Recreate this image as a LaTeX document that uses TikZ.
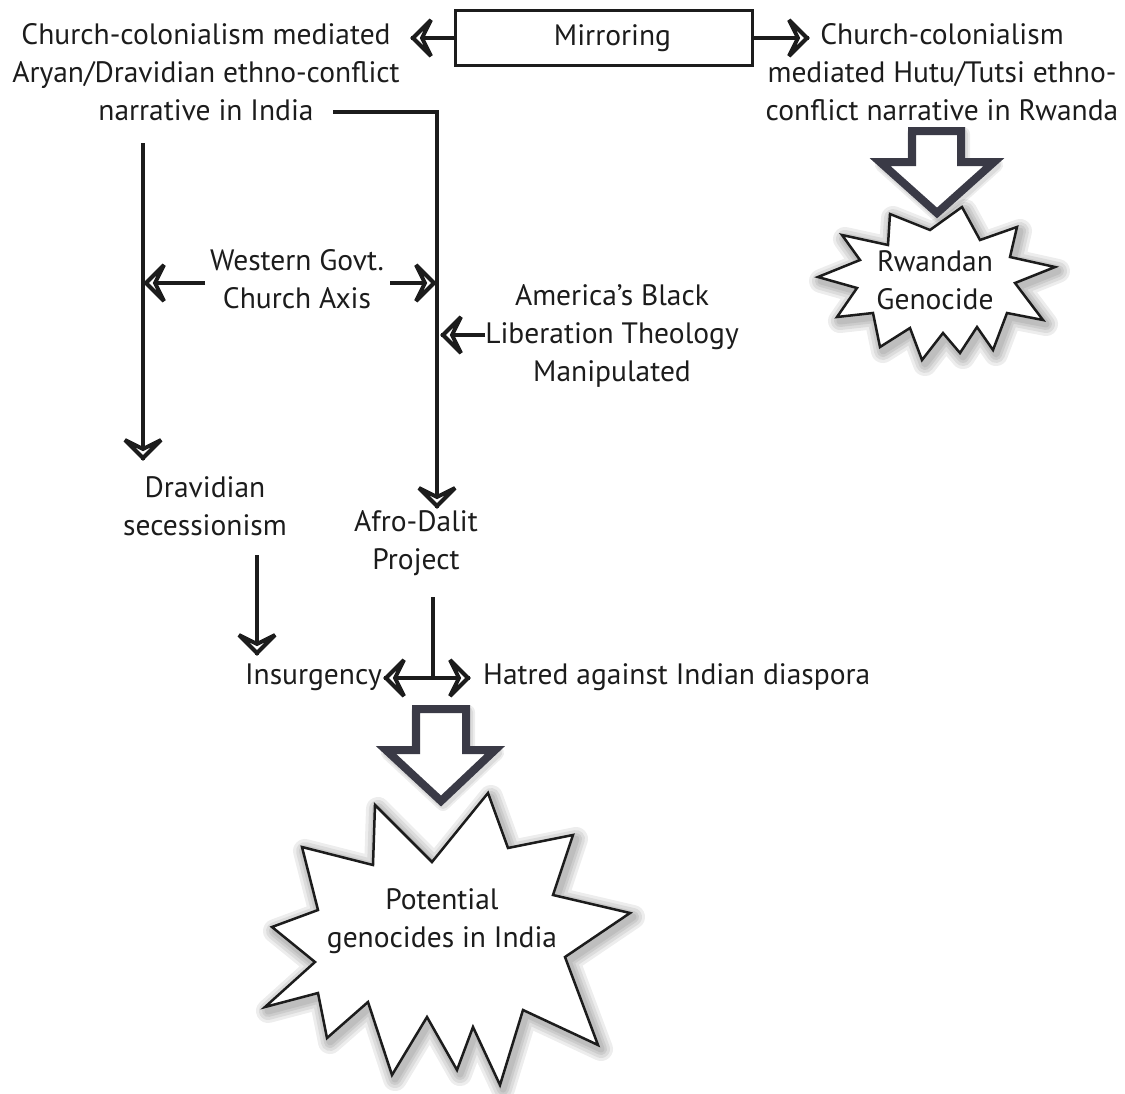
\documentclass[tikz,border=0pt]{standalone}
\usepackage{fontspec}
\setmainfont{PT Sans}
\definecolor{arrowgray}{HTML}{3A3A46}
\definecolor{inkc}{HTML}{1C1C1C}
\begin{document}
\begin{tikzpicture}[x=1pt,y=-1pt,
  txt/.style={align=center, font=\fontsize{29.5}{38}\selectfont, inner sep=0pt, text=inkc},
  plain/.style={line width=3.2pt, draw=inkc},
  bigarrow/.style={line width=8pt, draw=arrowgray, fill=white, line join=miter},
  burst/.style={line width=2.5pt, draw=inkc, fill=white, line join=miter},
  glow/.style={line width=#1, draw=black, opacity=0.07, line join=round},
  % open notched arrowhead, tip at the pic origin, pointing along +x
  ohead/.pic={\draw[line width=4pt, draw=inkc, fill=white, line join=miter, miter limit=4]
      (-2,0) -- (-20,-18) -- (-11,0) -- (-20,18) -- cycle;},
]
\useasboundingbox (0,0) rectangle (1125,1093);

% ---- starburst outlines ----
\def\rwandaburst{(842,235) -- (888,245) -- (890,214) -- (930,230) -- (962,207) -- (980,240) -- (1017,227) -- (1010,257) -- (1055,267) -- (1015,283) -- (1043,320) -- (1007,313) -- (993,350) -- (977,327) -- (960,353) -- (943,333) -- (922,360) -- (910,328) -- (880,347) -- (873,313) -- (837,317) -- (857,288) -- (818,277) -- (860,260) -- cycle}
\def\indiaburst{(488,793) -- (508,848) -- (573,835) -- (553,895) -- (630,913) -- (565,957) -- (598,1045) -- (523,1010) -- (500,1085) -- (473,1027) -- (457,1070) -- (427,1017) -- (392,1075) -- (368,1002) -- (327,1038) -- (318,993) -- (265,1007) -- (315,962) -- (272,927) -- (318,910) -- (302,847) -- (373,865) -- (375,805) -- (432,862) -- cycle}

% soft shadows behind the bursts
\begin{scope}[shift={(3,4)}]
  \foreach \w in {24pt,18pt,12pt,7pt} {
    \draw[glow=\w] \rwandaburst;
    \draw[glow=\w] \indiaburst;
  }
\end{scope}
\draw[burst] \rwandaburst;
\draw[burst] \indiaburst;

% ---- block arrows ----
\begin{scope}[shift={(2,3)}]
  \foreach \w in {14pt,10pt} {
    \draw[glow=\w] (912,131) -- (961,131) -- (961,162) -- (994,162) -- (937,213) -- (880,162) -- (912,162) -- cycle;
    \draw[glow=\w] (416,709) -- (466,709) -- (466,750) -- (495,750) -- (441,801) -- (386,750) -- (416,750) -- cycle;
  }
\end{scope}
\draw[bigarrow] (912,131) -- (961,131) -- (961,162) -- (994,162) -- (937,213) -- (880,162) -- (912,162) -- cycle;
\draw[bigarrow] (416,709) -- (466,709) -- (466,750) -- (495,750) -- (441,801) -- (386,750) -- (416,750) -- cycle;

% ---- text nodes ----
\node[draw=inkc, line width=3pt, minimum width=297pt, minimum height=55pt, font=\fontsize{29.5}{38}\selectfont, text=inkc] (mir) at (603.5,38) {\hspace*{18pt}Mirroring};
\node[txt] (india) at (206,72) {Church-colonialism mediated\\Aryan/Dravidian ethno-conflict\\narrative in India};
\node[txt] (rwanda) at (942,72) {Church-colonialism\\mediated Hutu/Tutsi ethno-\\conflict narrative in Rwanda};
\node[txt] (rwg) at (935,280) {Rwandan\\Genocide};
\node[txt] (west) at (297,279) {Western Govt.\\Church Axis};
\node[txt] (blt) at (612,336) {America’s Black\\Liberation Theology\\Manipulated};
\node[txt] (drav) at (205,506) {Dravidian\\secessionism};
\node[txt] (afro) at (416,543) {Afro-Dalit\\Project};
\node[txt, anchor=east] (ins) at (382,677) {Insurgency};
\node[txt, anchor=west] (hat) at (483,677) {Hatred against Indian diaspora};
\node[txt] (pot) at (442,921) {Potential\\genocides in India};

% ---- connector anchor points ----
\coordinate (mirL) at (411,38);
\coordinate (mirR) at (809,38);
\coordinate (dtop) at (143,143);
\coordinate (dtip) at (143,460);
\coordinate (atop) at (333,112);
\coordinate (abend) at (437,112);
\coordinate (atip) at (437,508);
\coordinate (wLs) at (205,283);
\coordinate (wL) at (144,283);
\coordinate (wRs) at (390,283);
\coordinate (wR) at (436,283);
\coordinate (bLs) at (485,335);
\coordinate (bL) at (441,335);
\coordinate (stop) at (257,555);
\coordinate (stip) at (257,655);
\coordinate (ptop) at (433,597);
\coordinate (pjoin) at (433,678);
\coordinate (hL) at (384,678);
\coordinate (hR) at (470,678);

% ---- connector lines ----
\draw[plain] (mir.west) -- (mirL);
\draw[plain] (mir.east) -- (mirR);
\draw[plain] (dtop) -- (dtip);
\draw[plain] (atop) -- (abend) -- (atip);
\draw[plain] (wLs) -- (wL);
\draw[plain] (wRs) -- (wR);
\draw[plain] (bLs) -- (bL);
\draw[plain] (stop) -- (stip);
\draw[plain] (ptop) -- (pjoin);
\draw[plain] (hL) -- (hR);

% ---- arrowheads ----
\pic[rotate=180] at (mirL) {ohead};
\pic at (mirR) {ohead};
\pic[rotate=-90] at (dtip) {ohead};
\pic[rotate=-90] at (atip) {ohead};
\pic[rotate=180] at (wL) {ohead};
\pic at (wR) {ohead};
\pic[rotate=180] at (bL) {ohead};
\pic[rotate=-90] at (stip) {ohead};
\pic[rotate=180] at (hL) {ohead};
\pic at (hR) {ohead};
\end{tikzpicture}
\end{document}
